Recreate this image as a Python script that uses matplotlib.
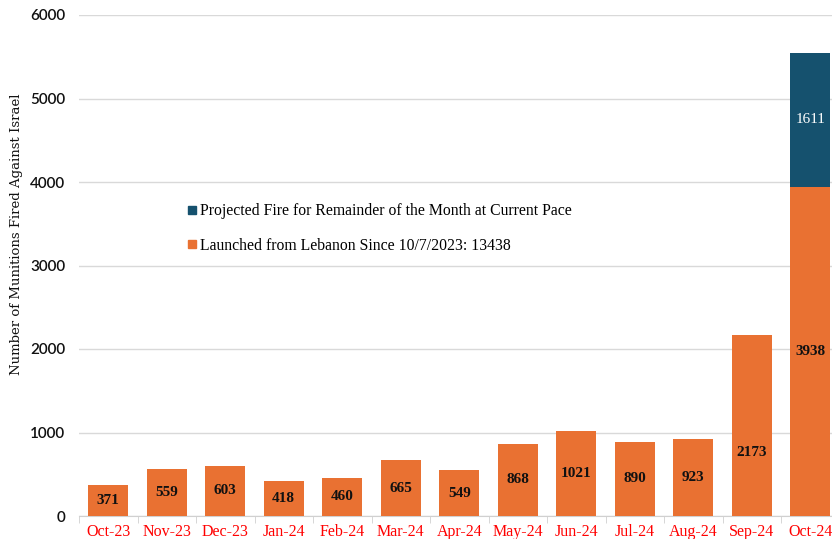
import matplotlib
matplotlib.use("Agg")
import matplotlib.pyplot as plt
import numpy as np
from matplotlib.lines import Line2D

months = ["Oct-23", "Nov-23", "Dec-23", "Jan-24", "Feb-24", "Mar-24", "Apr-24",
          "May-24", "Jun-24", "Jul-24", "Aug-24", "Sep-24", "Oct-24"]
launched = [371, 559, 603, 418, 460, 665, 549, 868, 1021, 890, 923, 2173, 3938]
projected = [0, 0, 0, 0, 0, 0, 0, 0, 0, 0, 0, 0, 1611]

orange = "#E97132"
blue = "#15516E"
serif = ["Liberation Serif", "DejaVu Serif"]

fig = plt.figure(figsize=(8.32, 5.39), dpi=100)
ax = fig.add_axes([79/832, 23/539, (839.5-79)/832, (516-15)/539])

x = np.arange(len(months))
w = 0.68
ax.bar(x, launched, width=w, color=orange, zorder=3)
ax.bar(x, projected, width=w, bottom=launched, color=blue, zorder=3)

for i, v in enumerate(launched):
    yy = v / 2 if i != 11 else v * 0.35
    ax.text(x[i], yy, str(v), ha="center", va="center", fontsize=11,
            family=serif, fontweight="bold", color="#111111", zorder=4)
for i, v in enumerate(projected):
    if v > 0:
        ax.text(x[i], launched[i] + v / 2, str(v), ha="center", va="center",
                fontsize=11, family=serif, color="white", zorder=4)

ax.set_xlim(-0.5, len(months) - 0.5)
ax.set_ylim(0, 6000)
ax.set_yticks(np.arange(0, 6001, 1000))
ax.grid(axis="y", color="#d9d9d9", linewidth=1, zorder=0)
for s in ["top", "right", "left"]:
    ax.spines[s].set_visible(False)
ax.spines["bottom"].set_color("#d0d0d0")

ax.set_xticks(x)
ax.set_xticklabels(months, family=serif, fontsize=11.5, color="#FF0000")
ax.tick_params(axis="x", which="major", length=0, pad=6)
ax.set_xticks(np.arange(-0.5, len(months), 1), minor=True)
ax.tick_params(axis="x", which="minor", length=5, color="#d0d0d0")
ax.tick_params(axis="y", length=0, pad=10)
for lab in ax.get_yticklabels():
    lab.set_family(["Lato", "DejaVu Sans"])
    lab.set_fontsize(11)
    lab.set_fontweight("semibold")
    lab.set_color("#111111")

ax.set_ylabel("Number of Munitions Fired Against Israel",
              family=["DejaVu Serif"], fontsize=9.5, color="#111111")
ax.yaxis.set_label_coords(-0.0736, 0.563)

handles = [Line2D([], [], marker="s", linestyle="none", color=blue, markersize=6),
           Line2D([], [], marker="s", linestyle="none", color=orange, markersize=6)]
labels = ["Projected Fire for Remainder of the Month at Current Pace",
          "Launched from Lebanon Since 10/7/2023: 13438"]
leg = ax.legend(handles, labels, loc="upper left", bbox_to_anchor=(0.12, 0.652),
                frameon=False, prop={"family": serif, "size": 11.3},
                handletextpad=0.0, labelspacing=1.15, handlelength=1.0)

fig.savefig("out.png", dpi=100)
